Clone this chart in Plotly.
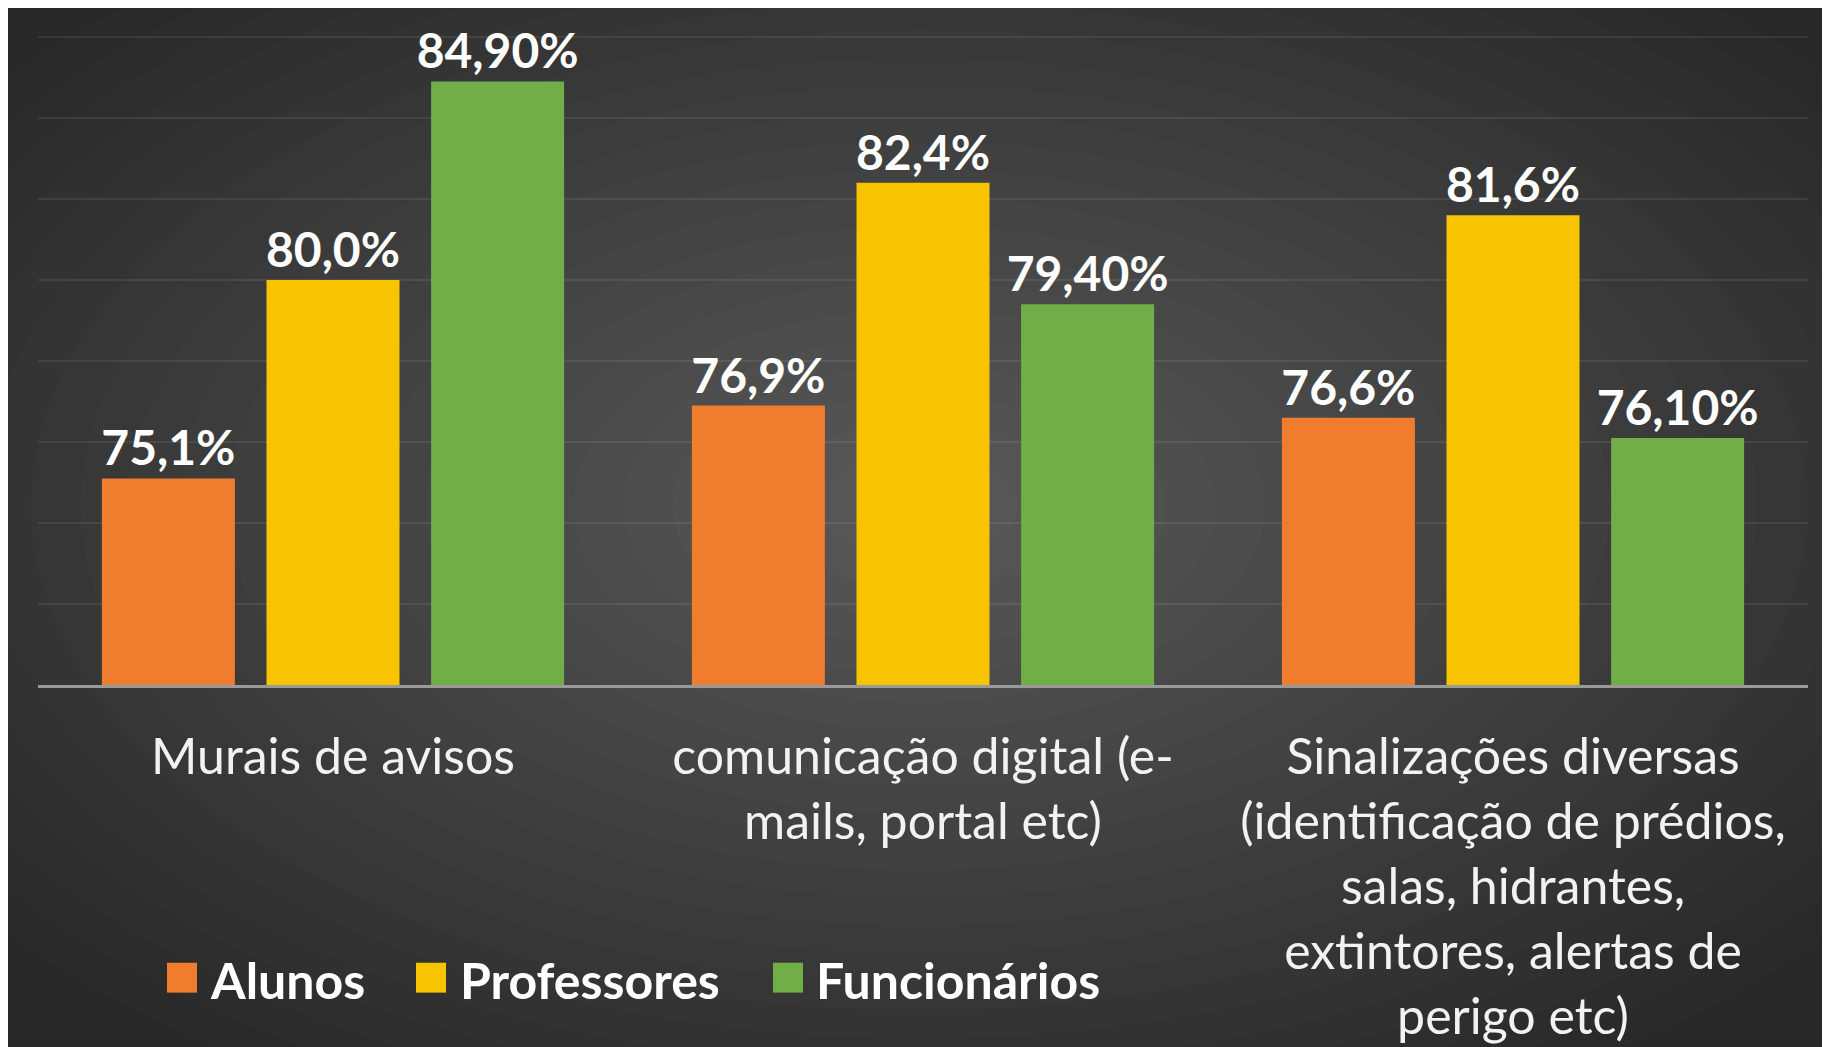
import plotly.graph_objects as go

# ---- data ----
categories = [
    "Murais de avisos",
    "comunicação digital (e-<br>mails, portal etc)",
    "Sinalizações diversas<br>(identificação de prédios,<br>salas, hidrantes,<br>extintores, alertas de<br>perigo etc)",
]
series_names = ["Alunos", "Professores", "Funcionários"]
alunos = [75.1, 76.9, 76.6]
professores = [80.0, 82.4, 81.6]
funcionarios = [84.90, 79.40, 76.10]
label_decimals = [1, 1, 2]

# ---- style ----
W, H = 1830, 1047
colors = ["#f07d2e", "#f8c300", "#71ae48"]
FONT = "Lato"
ML, MR, MT, MB = 30, 30, 10, H - 680
PW, PH = W - ML - MR, H - MT - MB

def px(x):  # figure pixel -> paper x
    return (x - ML) / PW

def py(y):  # figure pixel -> paper y
    return (H - MB - y) / PH

def fmt(v, d):
    return f"{v:.{d}f}".replace(".", ",") + "%"

fig = go.Figure()
for name, vals, col, d in zip(series_names, [alunos, professores, funcionarios], colors, label_decimals):
    fig.add_trace(go.Bar(
        x=categories, y=vals, name=name,
        marker=dict(color=col, line=dict(width=0)),
        text=[fmt(v, d) for v in vals],
        textposition="outside",
        constraintext="none",
        textfont=dict(family=FONT, size=48, color="white", weight="bold"),
        cliponaxis=True,
        showlegend=False,
    ))

shapes = []
# soft radial glow via concentric ellipses
N = 24
cxp, cyp = 911, 500
hx, hy = 911, 520
R = 1.3
for k in range(N, 0, -1):
    r = R * k / N
    shapes.append(dict(type="circle", xref="paper", yref="paper", layer="below",
                       x0=px(cxp - hx * r), x1=px(cxp + hx * r),
                       y0=py(cyp + hy * r), y1=py(cyp - hy * r),
                       fillcolor="rgba(255,255,255,0.012)", line=dict(width=0)))

# manual legend
annotations = []
legend_sq_x = [159, 408, 765]
legend_tx_x = [200, 450, 806]
sq_top, sq_bot = 959, 989
for name, col, sx, tx in zip(series_names, colors, legend_sq_x, legend_tx_x):
    shapes.append(dict(type="rect", xref="paper", yref="paper", layer="above",
                       x0=px(sx), x1=px(sx + 30), y0=py(sq_bot), y1=py(sq_top),
                       fillcolor=col, line=dict(width=0)))
    annotations.append(dict(xref="paper", yref="paper", x=px(tx), y=py(976),
                            xanchor="left", yanchor="middle", showarrow=False,
                            text=name, font=dict(family=FONT, size=50, color="white", weight="bold")))

fig.update_layout(
    width=W, height=H,
    margin=dict(l=ML, r=MR, t=MT, b=MB, pad=0),
    paper_bgcolor="#282828",
    plot_bgcolor="rgba(0,0,0,0)",
    barmode="group",
    bargap=0.163,
    bargroupgap=0.192,
    shapes=shapes,
    annotations=annotations,
    showlegend=False,
    font=dict(family=FONT, color="#f2f2f2"),
    xaxis=dict(
        showline=True, linecolor="#9a9a9a", linewidth=2.5,
        showgrid=False, ticks="", ticklabelstandoff=26,
        tickfont=dict(family=FONT, size=50, color="#f2f2f2"),
        tickangle=0, fixedrange=True,
    ),
    yaxis=dict(
        range=[70, 86.467], tick0=70, dtick=2,
        showgrid=True, gridcolor="rgba(255,255,255,0.08)", gridwidth=2,
        showticklabels=False, zeroline=False, showline=False, ticks="",
    ),
)

fig.write_html("out.html")
